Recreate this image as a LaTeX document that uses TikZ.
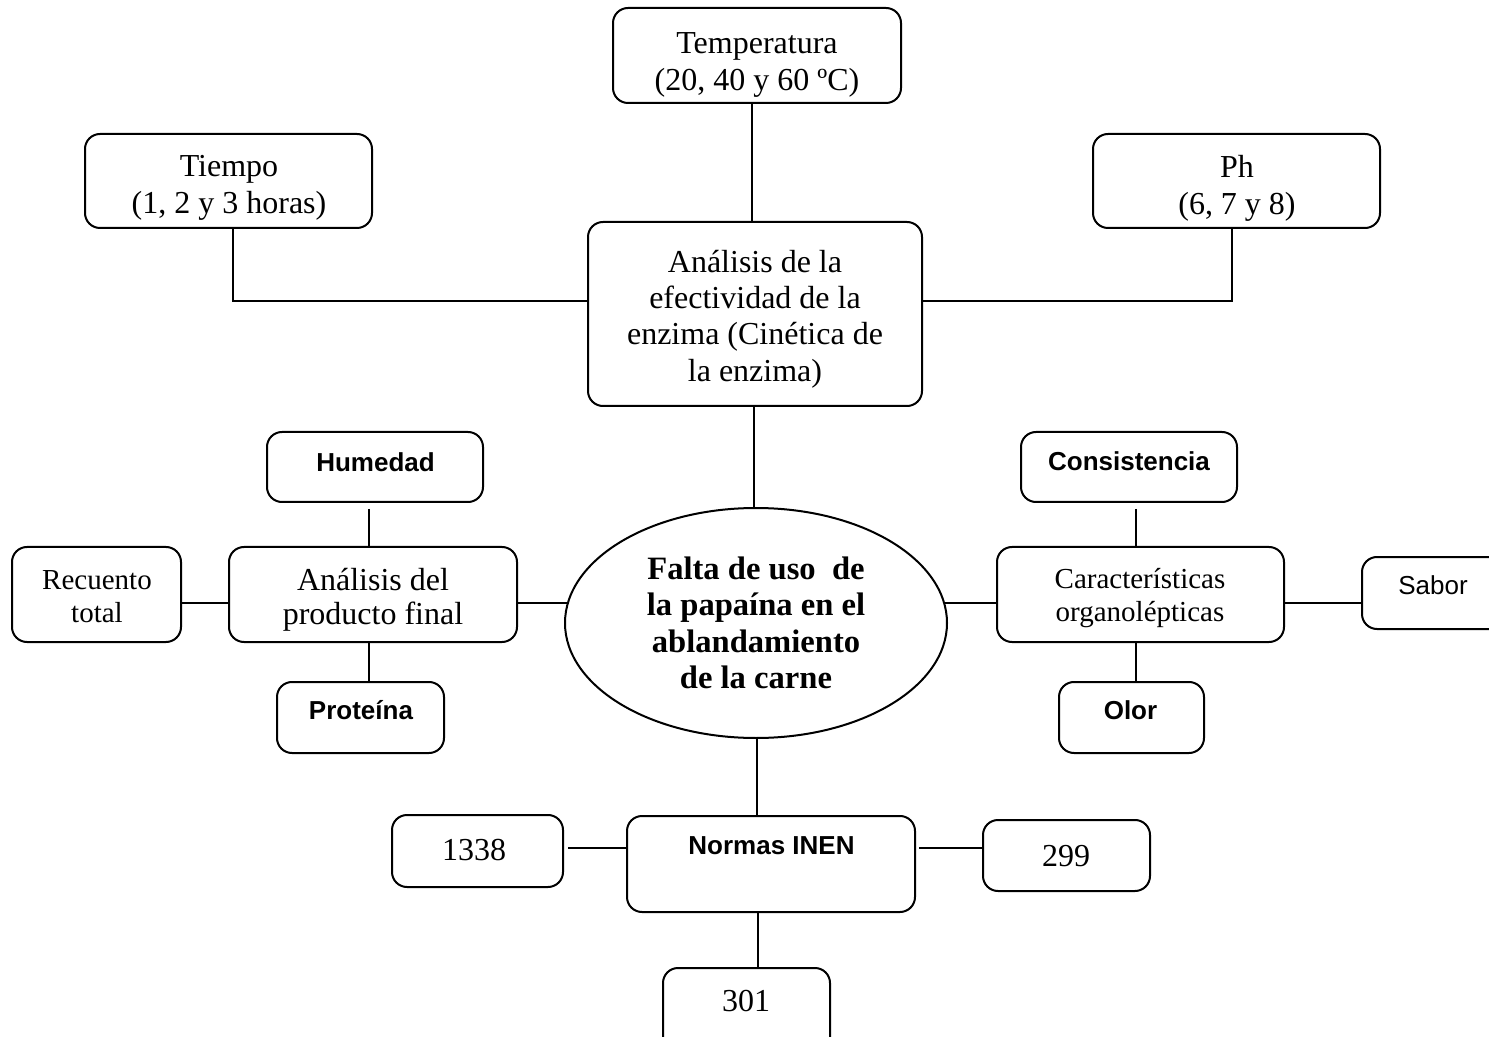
\documentclass[tikz,border=0pt]{standalone}
\usepackage{fontspec}
\setmainfont{Liberation Serif}
\setsansfont{Liberation Sans}
\usetikzlibrary{shapes.geometric}
\newcommand\mkbox[5]{\node[bx, minimum width={(#4-#2)*0.5pt}, minimum height={(#5-#3)*0.5pt}] (#1) at ({(#2+#4)/2},{(#3+#5)/2}) {};}
\begin{document}
\begin{tikzpicture}[x=0.5pt,y=-0.5pt,
  bx/.style={draw, line width=1pt, rounded corners=7.5pt, inner sep=0pt},
  ln/.style={line width=1pt},
  ser/.style={font=\fontsize{16}{18.5}\selectfont, align=center, inner sep=0pt},
  sers/.style={font=\fontsize{14.5}{16.5}\selectfont, align=center, inner sep=0pt},
  num/.style={font=\fontsize{16}{18}\selectfont, anchor=base, inner sep=0pt},
  sb/.style={font=\sffamily\bfseries\fontsize{13}{15}\selectfont, anchor=base, inner sep=0pt},
  sr/.style={font=\sffamily\fontsize{13}{15}\selectfont, anchor=base, inner sep=0pt}]
\clip (0,0) rectangle (1489,1037);
\fill[white] (0,0) rectangle (1489,1037);
% boxes
\mkbox{temp}{613}{8}{901}{103}
\mkbox{tiempo}{85}{134}{372}{228}
\mkbox{ph}{1093}{134}{1380}{228}
\mkbox{an}{588}{222}{922}{406}
\mkbox{hum}{267}{432}{483}{502}
\mkbox{apf}{229}{547}{517}{642}
\mkbox{rec}{12}{547}{181}{642}
\mkbox{prot}{277}{682}{444}{753}
\mkbox{cons}{1021}{432}{1237}{502}
\mkbox{car}{997}{547}{1284}{642}
\mkbox{sab}{1362}{557}{1530}{629}
\mkbox{olor}{1059}{682}{1204}{753}
\mkbox{norm}{627}{816}{915}{912}
\mkbox{nA}{392}{815}{563}{887}
\mkbox{nB}{983}{820}{1150}{891}
\mkbox{nC}{663}{968}{830}{1055}
\node[draw, ellipse, line width=1pt, minimum width=191pt, minimum height=115pt, inner sep=0pt] (core) at (756,623) {};
% texts
\node[ser] (temp-t) at (757,64.5) {Temperatura\\(20, 40 y 60 ºC)};
\node[ser] (tiempo-t) at (229,188) {Tiempo\\(1, 2 y 3 horas)};
\node[ser] (ph-t) at (1237,188) {Ph\\(6, 7 y 8)};
\node[ser, font=\fontsize{16}{18.1}\selectfont] (an-t) at (755,319) {Análisis de la\\efectividad de la\\enzima (Cinética de\\la enzima)};
\node[ser, font=\bfseries\fontsize{16.3}{18.2}\selectfont] (core-t) at (756,623) {Falta de uso\ \ de\\la papaína en el\\ablandamiento\\de la carne};
\node[ser, font=\fontsize{16}{16.8}\selectfont] (apf-t) at (373,600) {Análisis del\\producto final};
\node[sers] (rec-t) at (97,597) {Recuento\\total};
\node[sers] (car-t) at (1140,598.5) {Características\\organolépticas};
\node[sb] (hum-t) at (375.5,471.5) {Humedad};
\node[sb] (prot-t) at (361,719) {Proteína};
\node[sb] (cons-t) at (1129,470.5) {Consistencia};
\node[sb] (olor-t) at (1130.5,719) {Olor};
\node[sb] (norm-t) at (771.5,854) {Normas INEN};
\node[sr] (sab-t) at (1433,595) {Sabor};
\node[num] (nA-t) at (474,860) {1338};
\node[num] (nB-t) at (1066,866) {299};
\node[num] (nC-t) at (746,1011) {301};
% line positions
\coordinate (vT) at (752,0);
\coordinate (vTi) at (233,0);
\coordinate (vPh) at (1232,0);
\coordinate (hA) at (0,301);
\coordinate (vC) at (754,0);
\coordinate (vL) at (369,0);
\coordinate (hM) at (0,603);
\coordinate (vR) at (1136,0);
\coordinate (vN) at (757,0);
\coordinate (hN) at (0,848);
\coordinate (vB) at (758,0);
% connectors
\draw[ln] (temp.south -| vT) -- (an.north -| vT);
\draw[ln] (tiempo.south -| vTi) |- (an.west |- hA);
\draw[ln] (ph.south -| vPh) |- (an.east |- hA);
\draw[ln] (an.south -| vC) -- (core.north -| vC);
\draw[ln, shorten <=3pt] (hum.south -| vL) -- (apf.north -| vL);
\draw[ln] (apf.south -| vL) -- (prot.north -| vL);
\draw[ln] (rec.east |- hM) -- (apf.west |- hM);
\draw[ln] (apf.east |- hM) -- (core.174 |- hM);
\draw[ln] (core.6 |- hM) -- (car.west |- hM);
\draw[ln] (car.east |- hM) -- (sab.west |- hM);
\draw[ln, shorten <=3pt] (cons.south -| vR) -- (car.north -| vR);
\draw[ln] (car.south -| vR) -- (olor.north -| vR);
\draw[ln] (core.south -| vN) -- (norm.north -| vN);
\draw[ln, shorten <=2pt] (nA.east |- hN) -- (norm.west |- hN);
\draw[ln, shorten <=1.5pt] (norm.east |- hN) -- (nB.west |- hN);
\draw[ln] (norm.south -| vB) -- (nC.north -| vB);
\end{tikzpicture}
\end{document}
